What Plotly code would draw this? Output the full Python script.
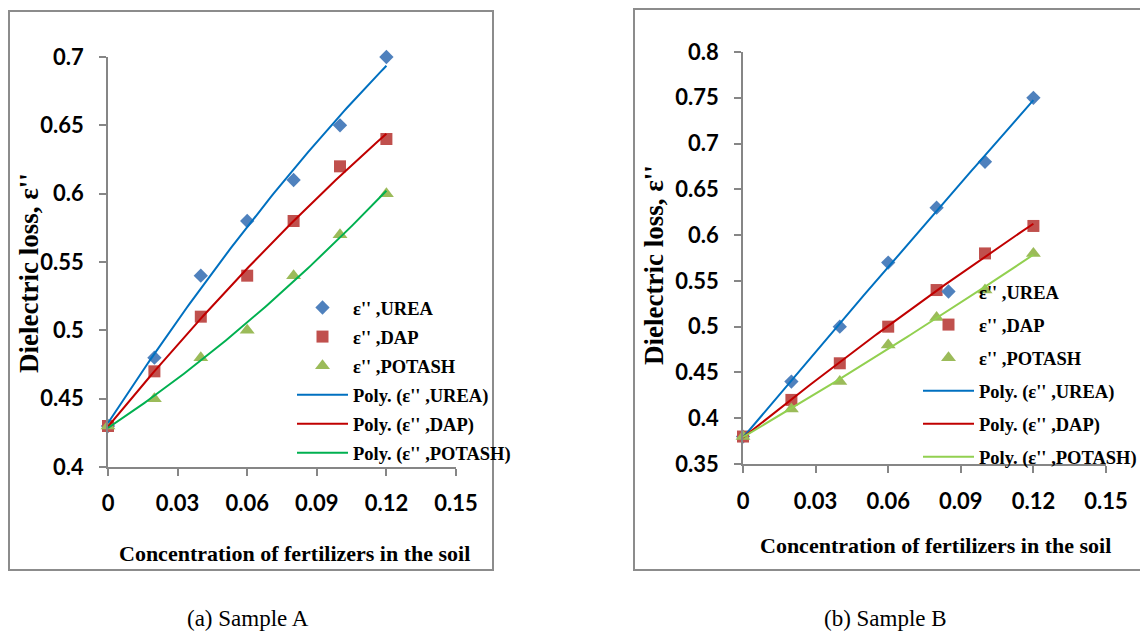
import numpy as np
import plotly.graph_objects as go

# ---------------- data ----------------
conc = [0, 0.02, 0.04, 0.06, 0.08, 0.10, 0.12]

urea_a = [0.43, 0.48, 0.54, 0.58, 0.61, 0.65, 0.70]
dap_a = [0.43, 0.47, 0.51, 0.54, 0.58, 0.62, 0.64]
potash_a = [0.43, 0.45, 0.48, 0.50, 0.54, 0.57, 0.60]

urea_b = [0.38, 0.44, 0.50, 0.57, 0.63, 0.68, 0.75]
dap_b = [0.38, 0.42, 0.46, 0.50, 0.54, 0.58, 0.61]
potash_b = [0.38, 0.41, 0.44, 0.48, 0.51, 0.54, 0.58]

x_ticks = [0, 0.03, 0.06, 0.09, 0.12, 0.15]
x_tick_text = ["0", "0.03", "0.06", "0.09", "0.12", "0.15"]
ya_ticks = [0.4, 0.45, 0.5, 0.55, 0.6, 0.65, 0.7]
ya_tick_text = ["0.4", "0.45", "0.5", "0.55", "0.6", "0.65", "0.7"]
yb_ticks = [0.35, 0.4, 0.45, 0.5, 0.55, 0.6, 0.65, 0.7, 0.75, 0.8]
yb_tick_text = ["0.35", "0.4", "0.45", "0.5", "0.55", "0.6", "0.65", "0.7", "0.75", "0.8"]

series_names = ["UREA", "DAP", "POTASH"]

# ---------------- styling ----------------
W, H = 1148, 632
OFF = 8  # page body margin offset
marker_colors = ["#4F81BD", "#C0504D", "#9BBB59"]
marker_symbols = ["diamond", "square", "triangle-up"]
marker_sizes = [11, 12, 13]
line_colors_a = ["#0070C0", "#C00000", "#00B050"]
line_colors_b = ["#0070C0", "#C00000", "#92D050"]

fig = go.Figure()


def px_x(p):
    return (p - OFF) / W


def px_y(p):
    return 1 - (p - OFF) / H


def add_panel(ys, line_colors, xa, ya, legend):
    for name, y, c, s, sz in zip(series_names, ys, marker_colors, marker_symbols, marker_sizes):
        fig.add_trace(go.Scatter(
            x=conc, y=y, mode="markers", name="\u03b5'' ," + name,
            marker=dict(color=c, symbol=s, size=sz),
            xaxis=xa, yaxis=ya, legend=legend, legendgroup=legend + "m" + name,
            cliponaxis=False,
        ))
    xf = np.linspace(min(conc), max(conc), 100)
    for name, y, lc in zip(series_names, ys, line_colors):
        coef = np.polyfit(conc, y, 2)
        fig.add_trace(go.Scatter(
            x=xf, y=np.polyval(coef, xf), mode="lines",
            name="Poly. (\u03b5'' ," + name + ")",
            line=dict(color=lc, width=2),
            xaxis=xa, yaxis=ya, legend=legend, legendgroup=legend + "p" + name,
            cliponaxis=False,
        ))


add_panel([urea_a, dap_a, potash_a], line_colors_a, "x", "y", "legend")
add_panel([urea_b, dap_b, potash_b], line_colors_b, "x2", "y2", "legend2")

axis_common = dict(
    showline=True, linecolor="#868686", linewidth=1.5,
    ticks="outside", ticklen=7, tickcolor="#868686", tickwidth=1.5,
    showgrid=False, zeroline=False,
    tickfont=dict(family="Lato", size=22, color="black", weight="bold"),
    tickmode="array",
)

legend_common = dict(
    xanchor="left", yanchor="top", bgcolor="rgba(0,0,0,0)",
    font=dict(family="Liberation Serif", size=18.5, color="black", weight="bold"),
    itemwidth=51, traceorder="grouped", borderwidth=0,
)

fig.update_layout(
    width=W, height=H,
    margin=dict(l=0, r=0, t=0, b=0, autoexpand=False),
    paper_bgcolor="white", plot_bgcolor="white",
    showlegend=True,
    xaxis=dict(axis_common, domain=[px_x(108), px_x(456)], range=[0, 0.15],
               tickvals=x_ticks, ticktext=x_tick_text, anchor="y", ticklabelstandoff=9),
    yaxis=dict(axis_common, domain=[px_y(467), px_y(57)], range=[0.4, 0.7],
               tickvals=ya_ticks, ticktext=ya_tick_text, anchor="x", ticklabelstandoff=11),
    xaxis2=dict(axis_common, domain=[px_x(743), px_x(1106)], range=[0, 0.15],
                tickvals=x_ticks, ticktext=x_tick_text, anchor="y2", ticklabelstandoff=10),
    yaxis2=dict(axis_common, domain=[px_y(464), px_y(52)], range=[0.35, 0.8],
                tickvals=yb_ticks, ticktext=yb_tick_text, anchor="x2", ticklabelstandoff=11),
    legend=dict(legend_common, x=px_x(292), y=px_y(289), tracegroupgap=2),
    legend2=dict(legend_common, x=px_x(918), y=px_y(273), tracegroupgap=6),
)

# panel frames
fig.add_shape(type="rect", xref="paper", yref="paper",
              x0=px_x(9), x1=px_x(493), y0=px_y(570), y1=px_y(11),
              line=dict(color="#8C8C8C", width=2), layer="below")
fig.add_shape(type="rect", xref="paper", yref="paper",
              x0=px_x(634), x1=px_x(1160), y0=px_y(570), y1=px_y(9),
              line=dict(color="#8C8C8C", width=2), layer="below")

title_font = dict(family="Liberation Serif", size=22, color="black", weight="bold")
ytitle_font = dict(family="Liberation Serif", size=27, color="black", weight="bold")
cap_font = dict(family="Liberation Serif", size=23, color="black")

annos = [
    dict(text="Concentration of fertilizers in the soil", x=px_x(294), y=px_y(553), font=title_font),
    dict(text="Concentration of fertilizers in the soil", x=px_x(935), y=px_y(545), font=title_font),
    dict(text="Dielectric loss, \u03b5''", x=px_x(29), y=px_y(273), font=ytitle_font, textangle=-90),
    dict(text="Dielectric loss, \u03b5''", x=px_x(654), y=px_y(265), font=ytitle_font, textangle=-90),
    dict(text="(a) Sample A", x=px_x(248), y=px_y(618), font=cap_font),
    dict(text="(b) Sample B", x=px_x(885), y=px_y(618), font=cap_font),
]
for a in annos:
    fig.add_annotation(xref="paper", yref="paper", xanchor="center", yanchor="middle",
                       showarrow=False, **a)

fig.write_html("out.html")
